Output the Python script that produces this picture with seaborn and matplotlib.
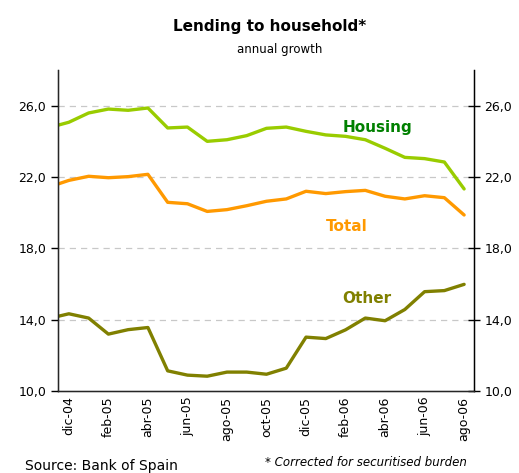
import matplotlib
matplotlib.use("Agg")
import matplotlib.pyplot as plt
import seaborn as sns
import pandas as pd
import numpy as np

months = ["nov-04", "dic-04", "ene-05", "feb-05", "mar-05", "abr-05", "may-05", "jun-05",
          "jul-05", "ago-05", "sep-05", "oct-05", "nov-05", "dic-05", "ene-06",
          "feb-06", "mar-06", "abr-06", "may-06", "jun-06", "jul-06", "ago-06"]
housing = [24.77, 25.07, 25.59, 25.81, 25.74, 25.87, 24.75, 24.80, 24.00, 24.09, 24.32,
           24.73, 24.80, 24.56, 24.36, 24.28, 24.09, 23.61, 23.10, 23.03, 22.84, 21.33]
total = [21.44, 21.81, 22.04, 21.96, 22.02, 22.15, 20.58, 20.50, 20.07, 20.17, 20.39,
         20.64, 20.77, 21.20, 21.07, 21.18, 21.25, 20.92, 20.77, 20.95, 20.84, 19.87]
other = [14.07, 14.33, 14.09, 13.19, 13.44, 13.56, 11.13, 10.89, 10.83, 11.06, 11.06,
         10.94, 11.28, 13.02, 12.94, 13.43, 14.09, 13.94, 14.57, 15.57, 15.63, 15.98]
series_names = ["Housing", "Total", "Other"]
yticks = [10, 14, 18, 22, 26]

sns.set_style("white")
plt.rcParams['font.family'] = ['DejaVu Sans']
plt.rcParams['text.color'] = 'black'
plt.rcParams['xtick.color'] = 'black'
plt.rcParams['ytick.color'] = 'black'

idx = np.arange(len(months)) - 1
df = pd.DataFrame({"idx": np.tile(idx, 3),
                   "value": housing + total + other,
                   "series": np.repeat(series_names, len(months))})

line_colors = {"Housing": "#99CC00", "Total": "#FF9900", "Other": "#808000"}
label_colors = {"Housing": "#008000", "Total": "#FF9900", "Other": "#808000"}

fig = plt.figure(figsize=(5.19, 4.73), dpi=100)
ax = fig.add_axes([58/519, 1-391/473, (474-58)/519, (391-70)/473])
sns.lineplot(data=df, x="idx", y="value", hue="series", palette=line_colors,
             linewidth=2.4, ax=ax, legend=False, sort=False)

ax.set_xlim(-0.55, 20.5)
ax.set_ylim(10, 28)
ax.set_yticks(yticks)
ax.set_yticklabels([f"{v:.1f}".replace(".", ",") for v in yticks], fontsize=9)
tick_idx = list(range(1, len(months), 2))
ax.set_xticks([idx[i] for i in tick_idx])
ax.set_xticklabels([months[i] for i in tick_idx], rotation=90, fontsize=9)
ax.set_xlabel("")
ax.set_ylabel("")
for v in yticks[1:]:
    ax.axhline(v, color="#C8C8C8", linestyle=(0, (5, 4)), linewidth=0.9, zorder=0)
ax.spines["top"].set_visible(False)
for s in ["left", "right", "bottom"]:
    ax.spines[s].set_color("black")
    ax.spines[s].set_linewidth(1.0)
ax.tick_params(axis="y", direction="out", length=5, width=1, color="black", left=True)
ax.tick_params(axis="x", length=0, pad=4)

ax2 = ax.twinx()
ax2.set_ylim(10, 28)
ax2.set_yticks(yticks)
ax2.set_yticklabels([f"{v:.1f}".replace(".", ",") for v in yticks], fontsize=9)
ax2.tick_params(axis="y", direction="inout", length=8, width=1, color="black", right=True)
ax2.spines["top"].set_visible(False)
ax2.spines["right"].set_color("black")

ax.text(15.6, 24.76, "Housing", color=label_colors["Housing"], fontsize=11, fontweight="bold",
        ha="center", va="center")
ax.text(14.07, 19.2, "Total", color=label_colors["Total"], fontsize=11, fontweight="bold",
        ha="center", va="center")
ax.text(15.1, 15.2, "Other", color=label_colors["Other"], fontsize=11, fontweight="bold",
        ha="center", va="center")

fig.text(270/519, 1-27/473, "Lending to household*", ha="center", va="center",
         fontsize=11, fontweight="bold")
fig.text(280/519, 1-50/473, "annual growth", ha="center", va="center", fontsize=8.5)
fig.text(25/519, 1-466/473, "Source: Bank of Spain", ha="left", va="center", fontsize=10)
fig.text(467/519, 1-462/473, "* Corrected for securitised burden", ha="right", va="center",
         fontsize=8.5, style="italic")

fig.savefig("out.png", dpi=100)
